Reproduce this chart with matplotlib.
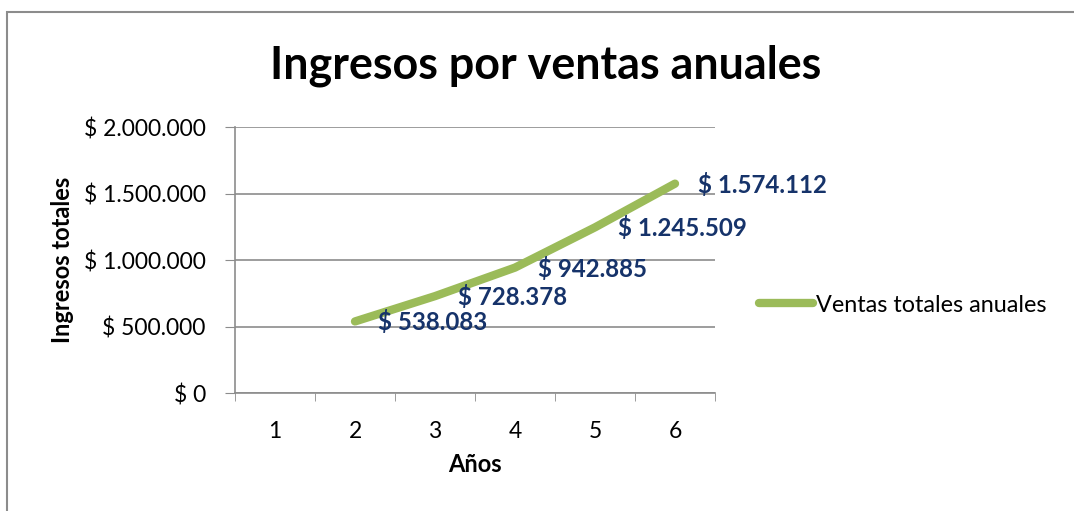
import matplotlib.pyplot as plt
from matplotlib.patches import Rectangle
from matplotlib.lines import Line2D

# Data
anios = [1, 2, 3, 4, 5, 6]
x_ventas = [2, 3, 4, 5, 6]
ventas = [538083, 728378, 942885, 1245509, 1574112]
y_ticks = [0, 500000, 1000000, 1500000, 2000000]


def pesos(v):
    return "$ " + f"{v:,.0f}".replace(",", ".")


plt.rcParams['font.family'] = ['Lato', 'DejaVu Sans']

fig = plt.figure(figsize=(10.74, 5.11), dpi=100)
ax = fig.add_axes([235 / 1074, 1 - 393 / 511, 480 / 1074, 266 / 511])

grey = '#8c8c8c'
line_color = '#9bbb59'
label_color = '#16336a'

ax.plot(x_ventas, ventas, color=line_color, lw=6, solid_capstyle='round',
        solid_joinstyle='round', zorder=3)
for xv, v in zip(x_ventas, ventas):
    ax.annotate(pesos(v), (xv, v), xytext=(23, -1), textcoords='offset pixels',
                ha='left', va='center', fontsize=17.3, fontweight='bold',
                color=label_color, zorder=4, annotation_clip=False)

ax.set_xlim(0.5, 6.5)
ax.set_ylim(0, 2000000)
ax.set_xticks(anios)
ax.set_xticklabels([str(a) for a in anios], fontsize=16.5)
ax.set_xticks([a + 0.5 for a in range(0, 7)], minor=True)
ax.tick_params(axis='x', which='major', length=0, pad=20)
ax.tick_params(axis='x', which='minor', length=6, color=grey, direction='out')
ax.set_yticks(y_ticks)
ax.set_yticklabels([pesos(v) for v in y_ticks], fontsize=16.5)
ax.tick_params(axis='y', length=7, color=grey, pad=14)

ax.grid(axis='y', color=grey, lw=1.2)
ax.set_axisbelow(True)
for side in ['top', 'right']:
    ax.spines[side].set_visible(False)
for side in ['left', 'bottom']:
    ax.spines[side].set_color(grey)
    ax.spines[side].set_linewidth(1.2)

ax.set_xlabel('Años', fontsize=17, fontweight='bold', labelpad=8)
ax.set_ylabel('Ingresos totales', fontsize=17, fontweight='bold', labelpad=7)

fig.text(546 / 1074, 1 - 66 / 511, 'Ingresos por ventas anuales', fontsize=32.3,
         fontweight='bold', ha='center', va='center')

handle = Line2D([], [], color=line_color, lw=6, solid_capstyle='round')
fig.legend([handle], ['Ventas totales anuales'], loc='center left',
           bbox_to_anchor=(750 / 1074, 1 - 305 / 511), frameon=False,
           fontsize=16.8, handlelength=2.3, handletextpad=0.15, borderaxespad=0)

fig.patches.append(Rectangle((7 / 1074, -0.1), 1.2, 1 - 12 / 511 + 0.1,
                             transform=fig.transFigure, fill=False,
                             edgecolor='#8c8c8c', lw=1.5))

fig.savefig('out.png', dpi=100)
